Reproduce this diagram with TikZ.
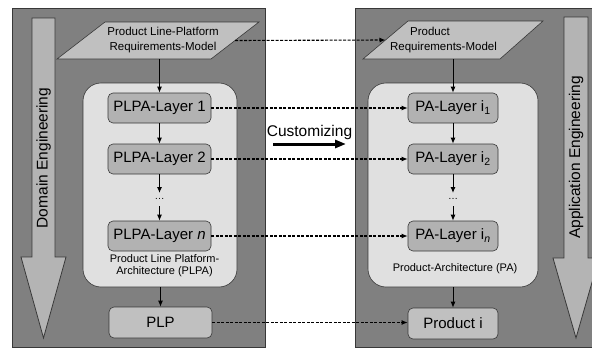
\documentclass[tikz,border=0pt]{standalone}
\usepackage{fontspec}
\setmainfont{Liberation Sans}
\usetikzlibrary{arrows.meta}
\definecolor{panelgray}{HTML}{808080}
\definecolor{edgegray}{HTML}{383838}
\definecolor{arrowgray}{HTML}{B4B4B4}
\definecolor{paramgray}{HTML}{C0C0C0}
\definecolor{contgray}{HTML}{E0E0E0}
\definecolor{boxgray}{HTML}{B2B2B2}
\definecolor{plpgray}{HTML}{C0C0C0}
\begin{document}
\begin{tikzpicture}[x=1pt,y=-1pt,
  panel/.style={fill=panelgray,draw=edgegray,line width=0.8pt},
  bigarrow/.style={fill=arrowgray,draw=edgegray,line width=0.8pt},
  param/.style={fill=paramgray,draw=edgegray,line width=0.6pt},
  container/.style={draw=edgegray,fill=contgray,rounded corners=18pt,line width=0.6pt,inner sep=0pt},
  layerbox/.style={draw=edgegray,fill=boxgray,rounded corners=5pt,minimum height=30pt,inner sep=0pt,line width=0.6pt,font=\fontsize{15}{18}\selectfont},
  endbox/.style={layerbox,fill=plpgray},
  smalltext/.style={font=\fontsize{11.5}{15}\selectfont,align=center,inner sep=0pt},
  labeltext/.style={font=\fontsize{11}{12}\selectfont,align=center,inner sep=0pt},
  bigtext/.style={font=\fontsize{15.5}{18}\selectfont,inner sep=0pt},
  dotstext/.style={font=\fontsize{10}{10}\selectfont,inner sep=0pt},
  flow/.style={-{Latex[length=6pt,width=5pt]},line width=1pt},
  custom/.style={dash pattern=on 3pt off 1.5pt,line width=1.1pt,-{Latex[length=6pt,width=5pt]}},
  thickarrow/.style={line width=3pt,-{Triangle[length=11pt,width=8pt]}}
]
\useasboundingbox (0,0) rectangle (592,348);
\begin{scope}
\clip (0,0) rectangle (592,348);
% panels
\draw[panel] (12,8) rectangle (265,347);
\draw[panel] (355,8) rectangle (600,347);
% big process arrows
\draw[bigarrow] (32,18) -- (55,18) -- (55,257) -- (66,257) -- (43.5,338) -- (21,257) -- (32,257) -- cycle;
\draw[bigarrow] (564,17) -- (588,17) -- (588,258) -- (599,258) -- (576,338) -- (553,258) -- (564,258) -- cycle;
\end{scope}
\node[bigtext,rotate=90] (domeng) at (43.5,158) {Domain Engineering};
\node[bigtext,rotate=90] (appeng) at (576,157.5) {Application Engineering};

% requirements models (parallelograms)
\draw[param] (57,59) -- (105,22) -- (259,22) -- (211,59) -- cycle;
\node[smalltext] (plreq) at (163,40.5) {Product Line-Platform\\Requirements-Model};
\coordinate (plreqE) at (235,40.5);
\coordinate (plreqS) at (159.5,59);
\draw[param] (363,59) -- (408,21) -- (543,21) -- (500,59) -- cycle;
\node[smalltext,align=left] (preq) at (443.5,40) {\hspace*{20pt}Product\\Requirements-Model};
\coordinate (preqW) at (385.5,40);
\coordinate (preqS) at (453,59);

% containers
\node[container,minimum width=154pt,minimum height=204pt] (plpa) at (160,185) {};
\node[container,minimum width=170pt,minimum height=204pt] (pa) at (453,185) {};
\node[labeltext] (plpalabel) at (164.5,266) {Product Line Platform-\\Architecture (PLPA)};
\node[labeltext] (palabel) at (455,269) {Product-Architecture (PA)};

% layer boxes left
\node[layerbox,minimum width=103pt] (l1) at (159.5,108) {PLPA-Layer 1};
\node[layerbox,minimum width=103pt] (l2) at (159.5,159) {PLPA-Layer 2};
\node[dotstext] (ldots) at (159.5,199) {\dots};
\coordinate (ldotsN) at (159.5,193);
\coordinate (ldotsS) at (159.5,206);
\node[layerbox,minimum width=103pt] (ln) at (159.5,236) {PLPA-Layer \textit{n}};
\node[endbox,minimum width=103pt,minimum height=31pt] (plp) at (160.5,322.5) {PLP};

% layer boxes right
\node[layerbox,minimum width=90pt] (r1) at (453,108) {PA-Layer i\textsubscript{1}};
\node[layerbox,minimum width=90pt] (r2) at (453,159) {PA-Layer i\textsubscript{2}};
\node[dotstext] (rdots) at (453,199) {\dots};
\coordinate (rdotsN) at (453,193);
\coordinate (rdotsS) at (453,206);
\node[layerbox,minimum width=90pt] (rn) at (453,236) {PA-Layer i\textsubscript{\textit{n}}};
\node[endbox,minimum width=90pt,minimum height=31pt] (prod) at (453,323.5) {Product i};

% flows
\draw[flow] (plreqS) -- (l1.north);
\draw[flow] (l1.south) -- (l2.north);
\draw[flow] (l2.south) -- (ldotsN);
\draw[flow] (ldotsS) -- (ln.north);
\draw[flow] (plpa.south -| plp.north) -- (plp.north);
\draw[flow] (preqS) -- (r1.north);
\draw[flow] (r1.south) -- (r2.north);
\draw[flow] (r2.south) -- (rdotsN);
\draw[flow] (rdotsS) -- (rn.north);
\draw[flow] (pa.south) -- (prod.north);

% customizing
\node[bigtext] (custlabel) at (309.5,132) {Customizing};
\coordinate (custA) at (273,144);
\coordinate (custB) at (346,144);
\draw[thickarrow] (custA) -- (custB);

% customization connectors
\draw[custom] (plreqE) -- (preqW);
\draw[custom] (l1.east) -- (r1.west);
\draw[custom] (l2.east) -- (r2.west);
\draw[custom] (ln.east) -- (rn.west);
\draw[custom] (plp.east) -- (prod.west |- plp.east);
\end{tikzpicture}
\end{document}
